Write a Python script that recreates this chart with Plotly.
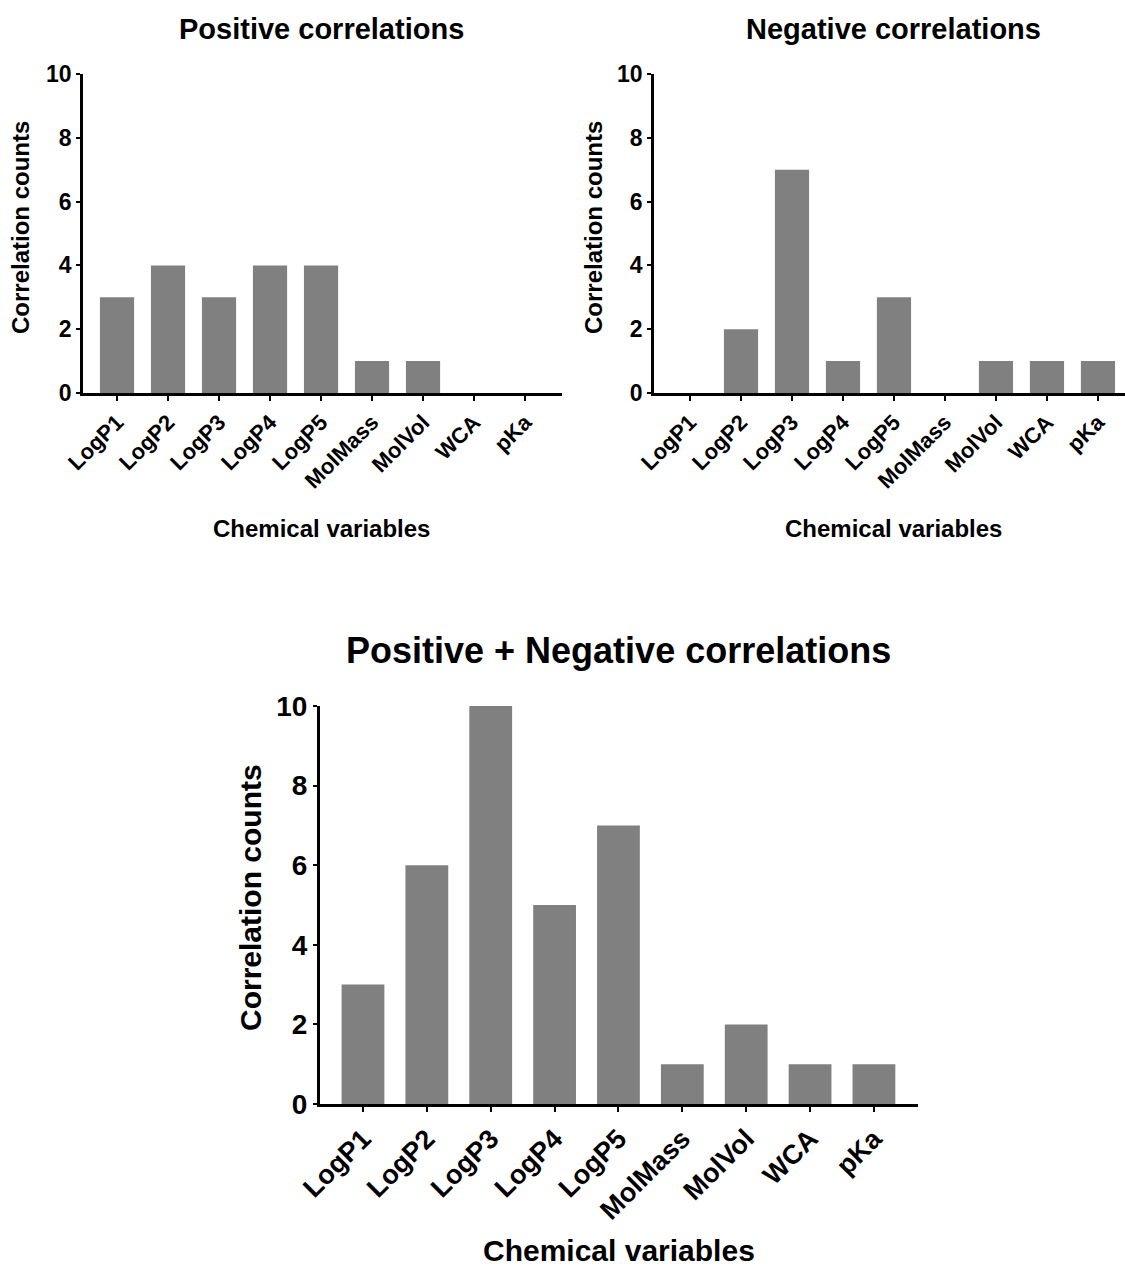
import plotly.graph_objects as go

# Chemical variables and correlation counts
categories = ["LogP1", "LogP2", "LogP3", "LogP4", "LogP5", "MolMass", "MolVol", "WCA", "pKa"]
positive_counts = [3, 4, 3, 4, 4, 1, 1, 0, 0]
negative_counts = [0, 2, 7, 1, 3, 0, 1, 1, 1]
combined_counts = [3, 6, 10, 5, 7, 1, 2, 1, 1]
y_ticks = [0, 2, 4, 6, 8, 10]

W, H = 1125, 1286
FONT = "Liberation Sans, Arial, sans-serif"
BAR = "#808080"

def px_x(v):
    return v / W

def px_y(v):
    return 1 - v / H

fig = go.Figure()

panels = [
    dict(vals=positive_counts, xd=(83, 562), yd=(393, 74), xr=(-0.667, 8.725), s="",
         tick=23, xtick=22, lw=2.5),
    dict(vals=negative_counts, xd=(654, 1125), yd=(393, 74), xr=(-0.706, 8.53), s="2",
         tick=23, xtick=22, lw=2.5),
    dict(vals=combined_counts, xd=(320, 918), yd=(1104, 706), xr=(-0.673, 8.69), s="3",
         tick=28, xtick=27, lw=3.2),
]

for p in panels:
    xa = "x" + p["s"]
    ya = "y" + p["s"]
    fig.add_trace(go.Bar(x=categories, y=p["vals"], marker_color=BAR, width=0.67,
                         marker_line_width=0, xaxis=xa, yaxis=ya, showlegend=False))
    fig.layout["xaxis" + p["s"]] = dict(
        domain=[px_x(p["xd"][0]), min(1.0, px_x(p["xd"][1]))],
        anchor=ya, type="category", range=list(p["xr"]), automargin=False,
        showline=True, linecolor="black", linewidth=p["lw"],
        ticks="outside", ticklen=5, tickwidth=2, tickcolor="black",
        tickangle=-45, showgrid=False, zeroline=False,
        tickfont=dict(family=FONT, size=p["xtick"], color="black", weight="bold"),
    )
    fig.layout["yaxis" + p["s"]] = dict(
        domain=[px_y(p["yd"][0]), px_y(p["yd"][1])],
        anchor=xa, range=[0, 10], tickvals=y_ticks, automargin=False,
        showline=True, linecolor="black", linewidth=p["lw"],
        ticks="outside", ticklen=4, tickwidth=2, tickcolor="black",
        showgrid=False, zeroline=False,
        tickfont=dict(family=FONT, size=p["tick"], color="black", weight="bold"),
    )

def text(x, y, s, size, angle=0):
    fig.add_annotation(x=px_x(x), y=px_y(y), xref="paper", yref="paper", text=s,
                       showarrow=False, textangle=angle, xanchor="center", yanchor="middle",
                       font=dict(family=FONT, size=size, color="black", weight="bold"))

# Panel titles
text(321, 29, "Positive correlations", 29)
text(893, 29, "Negative correlations", 29)
text(619, 650, "Positive + Negative correlations", 36)

# Axis titles
text(321, 528, "Chemical variables", 24)
text(893, 528, "Chemical variables", 24)
text(619, 1250, "Chemical variables", 30)
text(21, 228, "Correlation counts", 24, -90)
text(594, 228, "Correlation counts", 24, -90)
text(250, 898, "Correlation counts", 30, -90)

fig.update_layout(
    template="none",
    width=W, height=H, margin=dict(l=0, r=0, t=0, b=0, autoexpand=False),
    paper_bgcolor="white", plot_bgcolor="white",
)

fig.write_html("out.html")
